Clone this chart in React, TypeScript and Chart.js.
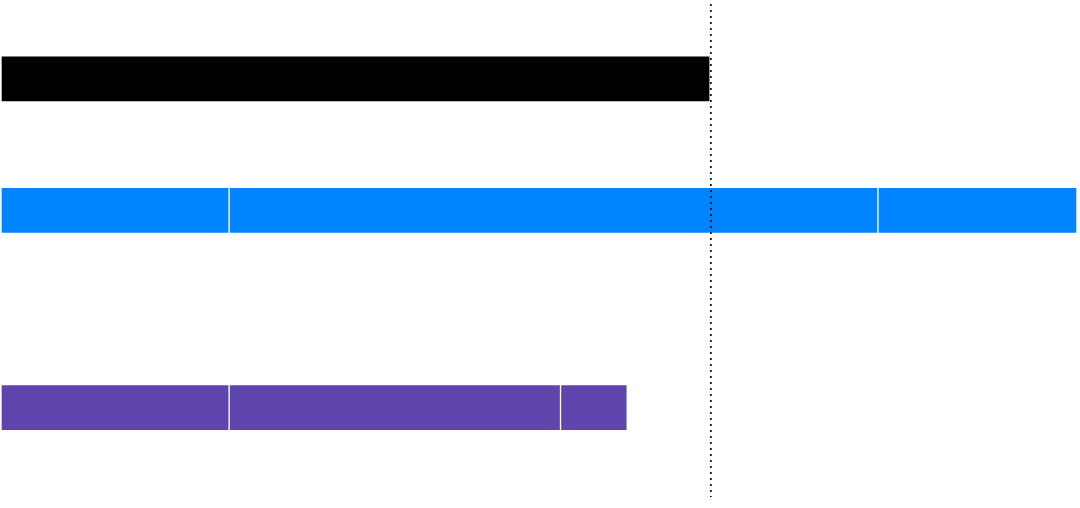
import React, { useEffect, useRef } from "react";
import { Chart, registerables } from "chart.js";

Chart.register(...registerables);

// Rows (top to bottom) and their slot index on the vertical axis
const rowNames = ["Benchmark", "Range", "Result"];
const rowSlots = [0, 2, 5];

// Stacked segment values per row (percent of scale)
const segment1 = [65.9, 21.2, 21.2];
const segment2 = [null, 60.3, 30.8];
const segment3 = [null, 18.5, 6.2];

const rowColors = ["#000000", "#0084ff", "#5e45ad"];

// Target marker (dotted vertical line)
const targetValue = 65.9;
const axisMax = 100;

const targetLine = {
  id: "targetLine",
  afterDatasetsDraw(chart: any) {
    const { ctx, chartArea, scales } = chart;
    const x = scales.x.getPixelForValue(targetValue) + 0.8;
    ctx.save();
    ctx.strokeStyle = "#000000";
    ctx.lineWidth = 1.6;
    ctx.setLineDash([2, 4]);
    ctx.beginPath();
    ctx.moveTo(x, chartArea.top);
    ctx.lineTo(x, chartArea.bottom);
    ctx.stroke();
    ctx.restore();
  },
};

function build(values: (number | null)[], label: string) {
  return {
    label,
    data: values.map((v, i) => ({ x: v, y: rowSlots[i] })),
    backgroundColor: rowColors,
    borderColor: "rgba(255,255,255,0.9)",
    borderWidth: 1,
    borderSkipped: false,
    barThickness: 46,
  };
}

export default function App() {
  const ref = useRef<HTMLCanvasElement>(null);
  useEffect(() => {
    if (!ref.current) return;
    const chart = new Chart(ref.current, {
      type: "bar",
      data: {
        labels: rowNames,
        datasets: [
          build(segment1, "Part 1"),
          build(segment2, "Part 2"),
          build(segment3, "Part 3"),
        ] as any,
      },
      options: {
        indexAxis: "y",
        animation: false,
        responsive: false,
        layout: { padding: { left: 1, right: 3, top: 4, bottom: 11 } },
        plugins: {
          legend: { display: false },
          tooltip: { enabled: false },
        },
        scales: {
          x: {
            type: "linear",
            stacked: true,
            min: 0,
            max: axisMax,
            display: false,
          },
          y: {
            type: "linear",
            stacked: true,
            reverse: true,
            offset: false,
            min: -1.14,
            max: 6.36,
            display: false,
          },
        },
      } as any,
      plugins: [targetLine],
    });
    return () => chart.destroy();
  }, []);
  return (
    <div style={{ position: "fixed", left: 0, top: 0, width: 1080, height: 508, background: "#fff" }}>
      <canvas ref={ref} width={1080} height={508} style={{ display: "block" }} />
    </div>
  );
}
